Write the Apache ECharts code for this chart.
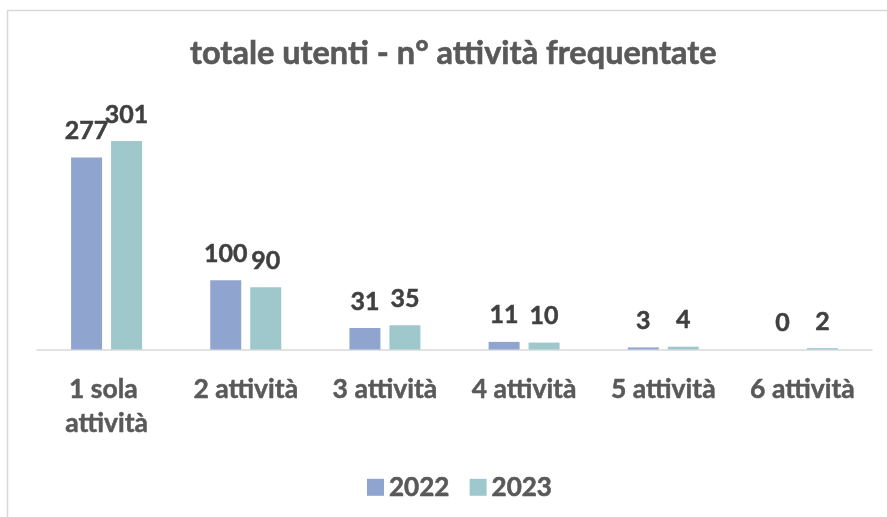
<!DOCTYPE html>
<html>
<head>
<meta charset="utf-8">
<script src="https://cdn.jsdelivr.net/npm/echarts@6/dist/echarts.min.js"></script>
<style>html,body{margin:0;padding:0;background:#fff}#c{width:887px;height:517px}</style>
</head>
<body>
<div id="c"></div>
<script>
const title = 'totale utenti - n° attività frequentate';
const categories = ['1 sola attività', '2 attività', '3 attività', '4 attività', '5 attività', '6 attività'];
const seriesNames = ['2022', '2023'];
const values2022 = [277, 100, 31, 11, 3, 0];
const values2023 = [301, 90, 35, 10, 4, 2];

const FONT = 'Lato';
const chart = echarts.init(document.getElementById('c'), null, {renderer: 'canvas'});
const labelStyle = {
  show: true, position: 'top', distance: 14,
  color: '#404040', fontFamily: FONT, fontWeight: 'bold', fontSize: 25,
  textBorderColor: '#404040', textBorderWidth: 0.5
};
chart.setOption({
  animation: false,
  backgroundColor: '#fff',
  graphic: [{
    type: 'rect', silent: true,
    shape: {x: 7.5, y: 10.5, width: 920, height: 540},
    style: {fill: 'none', stroke: '#d9d9d9', lineWidth: 1.5}
  }],
  title: {
    text: title, left: 185, top: 32,
    textStyle: {color: '#595959', fontFamily: FONT, fontWeight: 'bold', fontSize: 32.5,
      textBorderColor: '#595959', textBorderWidth: 0.6}
  },
  legend: {
    data: seriesNames, left: 362, top: 469,
    itemWidth: 17, itemHeight: 17, itemGap: 20,
    icon: 'rect',
    textStyle: {color: '#595959', fontFamily: FONT, fontWeight: 700, fontSize: 26,
      textBorderColor: '#595959', textBorderWidth: 0.6}
  },
  grid: {left: 37, right: 15, top: 107, bottom: 167.5, containLabel: false},
  xAxis: {
    type: 'category', data: categories,
    axisLine: {lineStyle: {color: '#d9d9d9', width: 1.5}},
    axisTick: {show: false},
    axisLabel: {
      interval: 0, margin: 23, color: '#595959', fontFamily: FONT, fontWeight: 'bold',
      fontSize: 26.5, lineHeight: 34, width: 130, overflow: 'break',
      textBorderColor: '#595959', textBorderWidth: 0.5
    }
  },
  yAxis: {type: 'value', min: 0, max: 350, show: false, splitLine: {show: false}},
  series: [
    {name: seriesNames[0], type: 'bar', data: values2022, barGap: '29%', barCategoryGap: '49%',
     itemStyle: {color: '#90A4D0'}, label: labelStyle},
    {name: seriesNames[1], type: 'bar', data: values2023,
     itemStyle: {color: '#9FC8CD'}, label: labelStyle}
  ]
});
</script>
</body>
</html>
